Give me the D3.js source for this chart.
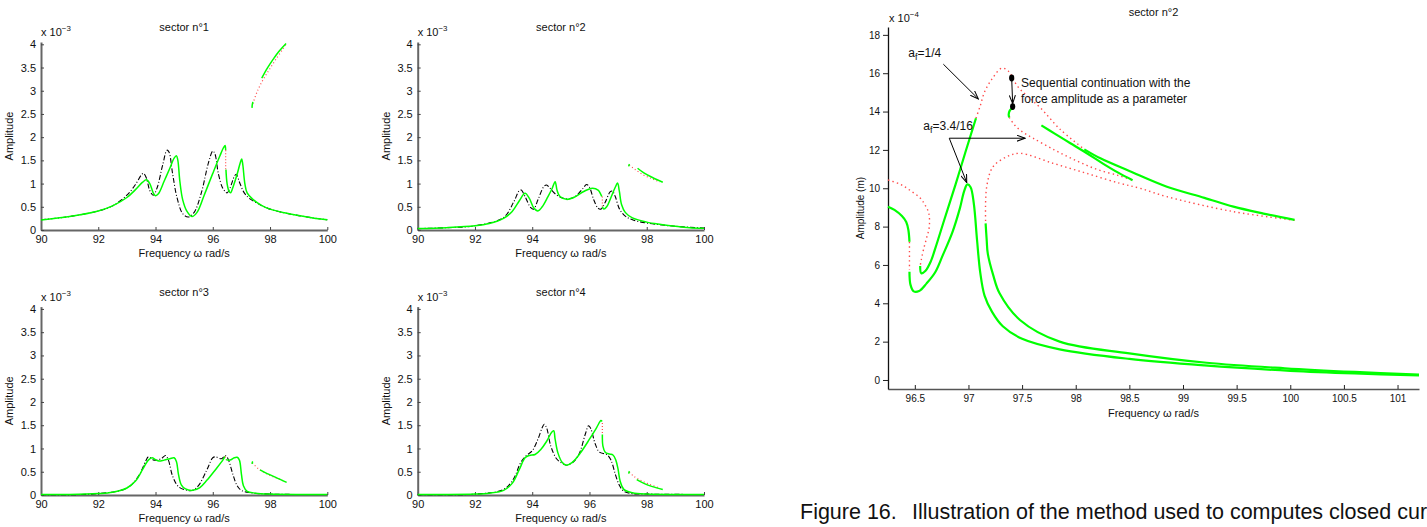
<!DOCTYPE html>
<html>
<head>
<meta charset="utf-8">
<script src="https://cdn.jsdelivr.net/npm/d3@7"></script>
<style>
  body { margin: 0; background: #fff; }
  svg { display: block; font-family: "Liberation Sans", Arial, sans-serif; }
</style>
</head>
<body>
<script>
// ---------- Sector panels: amplitude (x 1e-3) vs frequency (rad/s) ----------
const sectorFreqTicks = [90, 92, 94, 96, 98, 100];
const sectorAmpTicks = [0, 0.5, 1, 1.5, 2, 2.5, 3, 3.5, 4];
const sectorTitles = ["sector n°1", "sector n°2", "sector n°3", "sector n°4"];

// sector 1
const s1Linear = [[90,0.22],[91,0.29],[92,0.41],[92.5,0.52],[93,0.75],[93.3,0.98],[93.5,1.18],[93.58,1.22],[93.68,1.12],[93.8,0.85],[93.92,0.75],[94.05,0.9],[94.25,1.4],[94.4,1.72],[94.47,1.68],[94.6,1.2],[94.75,0.7],[94.95,0.35],[95.15,0.28],[95.35,0.38],[95.6,0.8],[95.85,1.45],[96.0,1.7],[96.07,1.65],[96.2,1.2],[96.35,0.9],[96.5,0.8],[96.6,0.9],[96.75,1.15],[96.82,1.2],[96.95,1.0],[97.1,0.8],[97.3,0.67],[97.7,0.53],[98,0.45],[98.5,0.37],[99,0.31],[99.5,0.26],[100,0.22]];
const s1StableA = [[90,0.215],[91,0.29],[92,0.41],[92.5,0.52],[93,0.7],[93.3,0.87],[93.55,1.03],[93.68,1.08],[93.8,1.0],[93.92,0.8],[94.0,0.74],[94.1,0.78],[94.3,1.05],[94.5,1.33],[94.65,1.55],[94.73,1.6],[94.78,1.5],[94.85,1.05],[94.95,0.65],[95.1,0.4],[95.27,0.29],[95.45,0.38],[95.7,0.75],[96.0,1.22],[96.25,1.6],[96.38,1.78],[96.43,1.82],[96.45,1.72]];
const s1Jump = [[96.45,1.72],[96.45,1.3]];
const s1StableB = [[96.46,1.3],[96.5,1.0],[96.57,0.83],[96.62,0.8],[96.72,0.95],[96.85,1.2],[96.96,1.45],[97.01,1.53],[97.05,1.4],[97.12,1.0],[97.2,0.8],[97.4,0.66],[97.7,0.53],[98,0.45],[98.5,0.37],[99,0.31],[99.5,0.26],[100,0.22]];
const s1UpperUnstable = [[97.4,2.72],[97.55,2.98],[97.75,3.23],[98.0,3.48],[98.25,3.72],[98.45,3.9],[98.56,4.02]];
const s1UpperStable = [[97.71,3.27],[97.9,3.48],[98.1,3.67],[98.3,3.84],[98.56,4.02]];
const s1UpperHook = [[97.37,2.63],[97.38,2.7],[97.4,2.76]];

// sector 2
const s2Linear = [[90,0.03],[91,0.05],[92,0.09],[93,0.27],[93.35,0.6],[93.55,0.85],[93.62,0.86],[93.75,0.72],[93.95,0.48],[94.05,0.45],[94.2,0.65],[94.4,0.93],[94.5,0.97],[94.62,0.9],[94.8,0.78],[95.0,0.7],[95.25,0.67],[95.5,0.72],[95.75,0.88],[95.9,0.98],[96.0,0.92],[96.15,0.65],[96.3,0.47],[96.4,0.45],[96.55,0.6],[96.72,0.82],[96.8,0.84],[96.9,0.72],[97.05,0.45],[97.25,0.3],[97.5,0.22],[98,0.15],[99,0.08],[100,0.04]];
const s2StableA = [[90,0.03],[91,0.05],[92,0.09],[92.5,0.14],[93,0.25],[93.3,0.4],[93.55,0.63],[93.75,0.79],[93.9,0.68],[94.05,0.48],[94.2,0.41],[94.35,0.5],[94.55,0.72],[94.7,0.9],[94.8,1.04],[94.87,0.85],[94.97,0.72],[95.2,0.66],[95.45,0.7],[95.8,0.83],[96.1,0.9],[96.3,0.86],[96.43,0.72]];
const s2Jump = [[96.45,0.72],[96.45,0.5]];
const s2StableB = [[96.45,0.5],[96.5,0.45],[96.6,0.5],[96.75,0.7],[96.9,0.92],[96.98,1.01],[97.04,0.85],[97.12,0.55],[97.25,0.38],[97.5,0.26],[98,0.17],[98.5,0.12],[99,0.08],[99.5,0.05],[100,0.04]];
const s2UpperUnstable = [[97.39,1.4],[97.6,1.3],[97.9,1.18],[98.2,1.1],[98.46,1.03]];
const s2UpperStable = [[97.68,1.33],[97.9,1.23],[98.2,1.13],[98.56,1.03]];
const s2UpperHook = [[97.37,1.37],[97.38,1.4],[97.4,1.42]];

// sector 3
const s3Linear = [[90,0.01],[92,0.03],[93,0.15],[93.4,0.4],[93.65,0.72],[93.75,0.82],[93.95,0.75],[94.2,0.78],[94.35,0.85],[94.45,0.75],[94.6,0.4],[94.8,0.18],[95.1,0.1],[95.3,0.1],[95.5,0.2],[95.8,0.55],[96.0,0.8],[96.1,0.82],[96.3,0.78],[96.45,0.85],[96.55,0.75],[96.7,0.45],[96.85,0.2],[97.0,0.1],[97.3,0.05],[98,0.02],[100,0.01]];
const s3StableA = [[90,0.01],[91,0.01],[92,0.03],[92.5,0.06],[93,0.15],[93.3,0.3],[93.55,0.55],[93.75,0.75],[93.88,0.8],[94.0,0.76],[94.12,0.73],[94.3,0.75],[94.5,0.78],[94.65,0.8],[94.73,0.72],[94.8,0.45],[94.9,0.22],[95.05,0.13],[95.3,0.1],[95.55,0.16],[95.8,0.32],[96.1,0.55],[96.35,0.75],[96.43,0.83]];
const s3Jump = [[96.44,0.83],[96.45,0.76]];
const s3StableB = [[96.46,0.76],[96.6,0.75],[96.75,0.8],[96.85,0.81],[96.93,0.75],[97.0,0.45],[97.07,0.2],[97.2,0.08],[97.5,0.04],[98,0.02],[99,0.01],[100,0.01]];
const s3UpperUnstable = [[97.38,0.69],[97.6,0.56],[97.9,0.45],[98.2,0.37],[98.46,0.31]];
const s3UpperStable = [[97.65,0.54],[97.9,0.46],[98.2,0.38],[98.58,0.27]];
const s3UpperHook = [[97.37,0.67],[97.38,0.7],[97.4,0.72]];

// sector 4
const s4Linear = [[90,0.01],[92,0.02],[93,0.12],[93.35,0.35],[93.6,0.7],[93.8,0.85],[94.0,0.95],[94.2,1.2],[94.35,1.45],[94.42,1.52],[94.5,1.45],[94.65,1.05],[94.85,0.78],[95.05,0.68],[95.2,0.64],[95.45,0.72],[95.65,0.9],[95.85,1.3],[95.97,1.49],[96.05,1.42],[96.2,1.1],[96.35,0.92],[96.6,0.87],[96.75,0.75],[96.9,0.45],[97.05,0.2],[97.2,0.08],[97.5,0.03],[98,0.02],[100,0.01]];
const s4StableA = [[90,0.01],[91,0.01],[92,0.02],[92.5,0.04],[93,0.1],[93.3,0.25],[93.55,0.55],[93.75,0.8],[93.9,0.85],[94.1,0.87],[94.3,0.98],[94.5,1.15],[94.68,1.35],[94.75,1.38],[94.8,1.2],[94.9,0.9],[95.05,0.7],[95.2,0.64],[95.4,0.7],[95.7,0.92],[96.0,1.2],[96.25,1.45],[96.4,1.6],[96.44,1.58]];
const s4Jump = [[96.45,1.55],[96.45,1.3]];
const s4StableB = [[96.45,1.3],[96.47,1.05],[96.55,0.92],[96.7,0.88],[96.82,0.86],[96.92,0.75],[97.0,0.55],[97.07,0.3],[97.2,0.12],[97.5,0.05],[98,0.02],[99,0.01],[100,0.01]];
const s4UpperUnstable = [[97.39,0.49],[97.55,0.4],[97.8,0.31],[98.1,0.23],[98.4,0.16]];
const s4UpperStable = [[97.65,0.33],[97.9,0.25],[98.2,0.18],[98.56,0.12]];
const s4UpperHook = [[97.37,0.46],[97.38,0.49],[97.4,0.51]];

const sectors = [
  {linear: s1Linear, stableA: s1StableA, jump: s1Jump, stableB: s1StableB, upU: s1UpperUnstable, upS: s1UpperStable, hook: s1UpperHook},
  {linear: s2Linear, stableA: s2StableA, jump: s2Jump, stableB: s2StableB, upU: s2UpperUnstable, upS: s2UpperStable, hook: s2UpperHook},
  {linear: s3Linear, stableA: s3StableA, jump: s3Jump, stableB: s3StableB, upU: s3UpperUnstable, upS: s3UpperStable, hook: s3UpperHook},
  {linear: s4Linear, stableA: s4StableA, jump: s4Jump, stableB: s4StableB, upU: s4UpperUnstable, upS: s4UpperStable, hook: s4UpperHook}
];

// ---------- Sector 2 zoom: amplitude (x 1e-4 m) vs frequency ----------
const zoomFreqTicks = [96.5, 97, 97.5, 98, 98.5, 99, 99.5, 100, 100.5, 101];
const zoomAmpTicks = [0, 2, 4, 6, 8, 10, 12, 14, 16, 18];

// a_f = 3.4/16 response
const lowLeftStable = [[96.25,9.04],[96.31,8.87],[96.38,8.55],[96.42,8.24],[96.44,7.82],[96.45,7.21]];
const lowLeftUnstable = [[96.45,7.21],[96.45,5.75]];
const lowMainStable = [[96.45,5.65],[96.46,4.96],[96.49,4.62],[96.54,4.64],[96.61,5.04],[96.69,5.62],[96.76,6.5],[96.85,7.7],[96.92,8.95],[96.96,9.85],[96.99,10.2],[97.02,10.05],[97.05,9.2],[97.08,7.3],[97.11,5.6],[97.15,4.4],[97.22,3.55],[97.32,2.8],[97.5,2.15],[97.85,1.6],[98.5,1.1],[99.2,0.76],[100,0.48],[100.6,0.34],[101.2,0.24]];
// closed curve (isola) reached by continuation in the force amplitude
const isolaHook = [[97.41,14.2],[97.385,14.05],[97.375,13.85],[97.38,13.7]];
const isolaUnstable = [[97.38,13.7],[97.43,13.3],[97.5,12.95],[97.6,12.62],[97.8,12.0],[98.0,11.45],[98.2,10.98],[98.4,10.66],[98.53,10.42]];
const isolaStable = [[97.68,13.28],[97.8,12.86],[97.95,12.35],[98.1,11.84],[98.25,11.3],[98.4,10.8],[98.53,10.42]];

// a_f = 1/4 response
const highLeftUnstable = [[96.25,10.43],[96.36,10.22],[96.45,9.91],[96.55,9.49],[96.6,9.08],[96.63,8.71],[96.635,8.0],[96.61,7.41],[96.58,6.78],[96.56,6.26],[96.55,5.95]];
const highRiseStable = [[96.55,5.95],[96.56,5.57],[96.6,5.7],[96.65,6.2],[96.69,6.85],[96.78,8.45],[96.88,10.2],[96.97,11.85],[97.07,13.65]];
const highPeakUnstable = [[97.07,13.65],[97.11,14.3],[97.15,15.02],[97.22,15.7],[97.31,16.26],[97.37,16.12],[97.46,15.3],[97.56,14.75],[97.67,14.2],[97.85,13.1],[98.08,12.03]];
const highUpperStable = [[98.08,12.03],[98.23,11.56],[98.5,10.9],[98.85,10.08],[99.2,9.5],[99.47,9.04],[99.75,8.68],[100.04,8.35]];
const highMiddleUnstable = [[100.04,8.33],[99.47,8.78],[98.85,9.56],[98.6,10.0],[98.41,10.26],[98.1,10.78],[97.79,11.3],[97.48,11.82],[97.36,11.65],[97.23,11.13],[97.17,10.08],[97.16,8.2]];
const highTailStable = [[97.16,8.17],[97.17,7.3],[97.18,6.6],[97.23,5.48],[97.29,4.52],[97.48,3.13],[97.85,2.0],[98.5,1.39],[99.22,0.9],[99.95,0.61],[100.6,0.42],[101.2,0.28]];

// continuation markers (frequency, amplitude)
const contStart = [97.403, 15.75];
const contEnd = [97.412, 14.26];

// ---------- drawing ----------
const W = 1427, H = 527;
const GREEN = "#00ff00", RED = "#ff4a4a", INK = "#000";
const svg = d3.select("body").append("svg").attr("width", W).attr("height", H);

svg.append("defs").append("marker")
  .attr("id", "head").attr("viewBox", "0 0 10 8")
  .attr("refX", 9.5).attr("refY", 4)
  .attr("markerWidth", 9).attr("markerHeight", 7)
  .attr("markerUnits", "userSpaceOnUse").attr("orient", "auto")
  .append("path").attr("d", "M0,0.5 L9.5,4 L0,7.5").attr("fill", "none")
  .attr("stroke", INK).attr("stroke-width", 1.2);

function curve(g, x, y, data, color, width, dash) {
  g.append("path").datum(data)
    .attr("d", d3.line().x(d => x(d[0])).y(d => y(d[1])).curve(d3.curveCatmullRom.alpha(0.5)))
    .attr("fill", "none").attr("stroke", color).attr("stroke-width", width)
    .attr("stroke-dasharray", dash || null).attr("stroke-linejoin", "round");
}

function scaleLabel(g, px, py, exp, size) {
  const t = g.append("text").attr("x", px).attr("y", py).attr("font-size", size).attr("fill", "#111");
  t.append("tspan").text("x 10");
  t.append("tspan").attr("dy", -5).attr("font-size", size * 0.72).text(exp);
}

// sector panel frames
const frames = [
  {x0: 41, x1: 327.3, yb: 230, yt: 42},
  {x0: 417.7, x1: 704, yb: 230, yt: 42},
  {x0: 41, x1: 327.3, yb: 495, yt: 306.6},
  {x0: 417.7, x1: 704, yb: 495, yt: 306.6}
];

sectors.forEach((s, i) => {
  const f = frames[i];
  const x = d3.scaleLinear().domain([90, 100]).range([f.x0, f.x1]);
  const y = d3.scaleLinear().domain([0, 4.05]).range([f.yb, f.yt]);
  const g = svg.append("g");

  const xa = g.append("g").attr("transform", `translate(0,${f.yb})`)
    .call(d3.axisBottom(x).tickValues(sectorFreqTicks).tickSize(-3).tickSizeOuter(0).tickPadding(5));
  const ya = g.append("g").attr("transform", `translate(${f.x0},0)`)
    .call(d3.axisLeft(y).tickValues(sectorAmpTicks).tickSize(-3).tickSizeOuter(0).tickPadding(5).tickFormat(d => String(d)));
  [xa, ya].forEach(a => {
    a.select(".domain").attr("stroke", "#666").attr("stroke-width", 2);
    a.selectAll(".tick line").attr("stroke", "#444");
    a.selectAll("text").attr("font-size", 11).attr("fill", "#111").attr("font-family", "Liberation Sans, Arial, sans-serif");
  });

  curve(g, x, y, s.linear, INK, 1.1, "5,2,1,2");
  curve(g, x, y, s.stableA, GREEN, 1.5);
  curve(g, x, y, s.jump, RED, 1.2, "1,2");
  curve(g, x, y, s.stableB, GREEN, 1.5);
  curve(g, x, y, s.upU, RED, 1.2, "1,2.5");
  curve(g, x, y, s.upS, GREEN, 1.5);
  curve(g, x, y, s.hook, GREEN, 1.5);

  const cx = (f.x0 + f.x1) / 2;
  g.append("text").attr("x", cx).attr("y", f.yt - 11).attr("text-anchor", "middle")
    .attr("font-size", 11).attr("fill", "#111").text(sectorTitles[i]);
  scaleLabel(g, f.x0, f.yt - 6, "−3", 11);
  g.append("text").attr("transform", `translate(${f.x0 - 28},${(f.yb + f.yt) / 2}) rotate(-90)`)
    .attr("text-anchor", "middle").attr("font-size", 11).attr("fill", "#111").text("Amplitude");
  g.append("text").attr("x", cx).attr("y", f.yb + 27).attr("text-anchor", "middle")
    .attr("font-size", 11).attr("fill", "#111").text("Frequency ω rad/s");
});

// zoomed sector 2 panel
{
  const x = d3.scaleLinear().domain([96.25, 101.2]).range([888, 1419]);
  const y = d3.scaleLinear().domain([-0.47, 18.41]).range([389, 27]);
  const g = svg.append("g");

  const xa = g.append("g").attr("transform", `translate(0,${y.range()[0]})`)
    .call(d3.axisBottom(x).tickValues(zoomFreqTicks).tickSize(-4).tickSizeOuter(0).tickPadding(6).tickFormat(d => String(d)));
  const ya = g.append("g").attr("transform", `translate(${x.range()[0]},0)`)
    .call(d3.axisLeft(y).tickValues(zoomAmpTicks).tickSize(5).tickSizeOuter(0).tickPadding(3));
  xa.select(".domain").attr("stroke", "#555").attr("stroke-width", 1.6);
  ya.select(".domain").attr("stroke", "#111").attr("stroke-width", 1.3);
  [xa, ya].forEach(a => {
    a.selectAll(".tick line").attr("stroke", "#222");
    a.selectAll("text").attr("font-size", 10).attr("fill", "#111").attr("font-family", "Liberation Sans, Arial, sans-serif");
  });

  const dots = "1.4,3.2";
  curve(g, x, y, highLeftUnstable, RED, 1.4, dots);
  curve(g, x, y, highPeakUnstable, RED, 1.4, dots);
  curve(g, x, y, highMiddleUnstable, RED, 1.4, dots);
  curve(g, x, y, isolaUnstable, RED, 1.4, dots);
  curve(g, x, y, lowLeftUnstable, RED, 1.4, dots);

  curve(g, x, y, lowLeftStable, GREEN, 2.2);
  curve(g, x, y, lowMainStable, GREEN, 2.2);
  curve(g, x, y, highRiseStable, GREEN, 2.2);
  curve(g, x, y, highUpperStable, GREEN, 2.2);
  curve(g, x, y, highTailStable, GREEN, 2.2);
  curve(g, x, y, isolaStable, GREEN, 2.2);
  curve(g, x, y, isolaHook, GREEN, 2.2);

  // continuation in force amplitude between the two responses
  g.append("line").attr("x1", x(contStart[0])).attr("y1", y(contStart[1]))
    .attr("x2", x(contEnd[0])).attr("y2", y(contEnd[1]) - 3)
    .attr("stroke", INK).attr("stroke-width", 1).attr("marker-end", "url(#head)");
  [contStart, contEnd].forEach(p => g.append("ellipse")
    .attr("cx", x(p[0])).attr("cy", y(p[1])).attr("rx", 2.6).attr("ry", 3.4).attr("fill", INK));

  // annotation arrows
  const arrow = (a, b) => g.append("line").attr("x1", x(a[0])).attr("y1", y(a[1]))
    .attr("x2", x(b[0])).attr("y2", y(b[1])).attr("stroke", INK).attr("stroke-width", 1)
    .attr("marker-end", "url(#head)");
  arrow([96.766, 16.47], [97.092, 14.66]);
  arrow([96.821, 12.61], [97.527, 12.61]);
  arrow([96.821, 12.61], [96.984, 10.3]);

  const af = (px, py, rest) => {
    const t = g.append("text").attr("x", x(px)).attr("y", y(py)).attr("font-size", 12).attr("fill", "#111");
    t.append("tspan").text("a");
    t.append("tspan").attr("dy", 3).attr("font-size", 9).text("f");
    t.append("tspan").attr("dy", -3).text(rest);
  };
  af(96.439, 16.85, "=1/4");
  af(96.579, 13.04, "=3.4/16");

  g.append("text").attr("x", x(97.49)).attr("y", y(15.28)).attr("font-size", 12).attr("fill", "#111")
    .text("Sequential continuation with the");
  g.append("text").attr("x", x(97.49)).attr("y", y(14.45)).attr("font-size", 12).attr("fill", "#111")
    .text("force amplitude as a parameter");

  g.append("text").attr("x", (x.range()[0] + x.range()[1]) / 2).attr("y", 16).attr("text-anchor", "middle")
    .attr("font-size", 11).attr("fill", "#111").text("sector n°2");
  scaleLabel(g, 889, 22, "−4", 11);
  g.append("text").attr("transform", `translate(864,${(27 + 389) / 2}) rotate(-90)`)
    .attr("text-anchor", "middle").attr("font-size", 10).attr("fill", "#111").text("Amplitude (m)");
  g.append("text").attr("x", (x.range()[0] + x.range()[1]) / 2).attr("y", 417).attr("text-anchor", "middle")
    .attr("font-size", 11).attr("fill", "#111").text("Frequency ω rad/s");
}

// figure caption (the page edge falls inside its last word)
const cap = svg.append("text").attr("x", 800).attr("y", 519)
  .attr("font-size", 21.5).attr("fill", "#111");
cap.append("tspan").text("Figure 16.");
cap.append("tspan").attr("x", 912).text("Illustration of the method used to computes closed cur");
</script>
</body>
</html>
